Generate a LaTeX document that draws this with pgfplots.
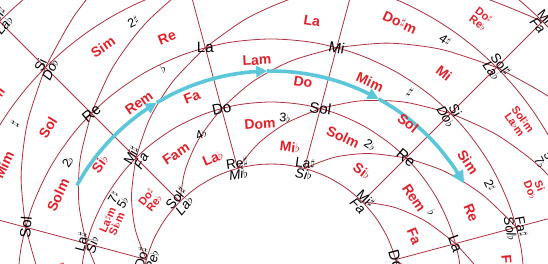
\documentclass[border=0pt]{standalone}
\usepackage{fontspec}
\setmainfont{Liberation Sans}
\usepackage{pgfplots}
\pgfplotsset{compat=1.18}
\usetikzlibrary{arrows.meta}
\definecolor{gridc}{RGB}{176,48,64}
\definecolor{chord}{RGB}{226,32,42}
\definecolor{arrowc}{RGB}{92,198,218}
\newcommand\sh{\raisebox{0.4ex}{\scalebox{0.78}{$\sharp$}}}
\newcommand\fl{\scalebox{0.85}{$\flat$}}
\pgfplotsset{gridline/.style={color=gridc, line width=0.8pt, no markers, smooth, data cs=polar}}
\tikzset{
 note/.style={font=\fontsize{15}{15}\selectfont, text=black, inner sep=0pt},
 note2/.style={font=\fontsize{13.5}{11}\selectfont, text=black, inner sep=0pt, align=center},
 chord/.style={font=\bfseries\fontsize{14}{14}\selectfont, text=chord, inner sep=0pt},
 chord2/.style={font=\bfseries\fontsize{11}{10}\selectfont, text=chord, inner sep=0pt, align=center},
 ksig/.style={font=\fontsize{12.5}{10.5}\selectfont, text=black, inner sep=0pt, align=center},
}
\newcommand\lbl[5]{\node[#1,rotate=#2] at (axis cs:#3,#4) {#5};}
\begin{document}
\begin{tikzpicture}
\begin{axis}[x=1pt,y=1pt,xmin=-271,xmax=277,ymin=29,ymax=293,hide axis,clip=true]
% rings
\addplot[gridline] coordinates {(5,129)(15,129)(25,129)(35,129)(45,129)(55,129)(65,129)(75,129)(85,129)(95,129)(105,129)(115,129)(125,129)(135,129)(145,129)(155,129)(165,129)(175,129)};
\addplot[gridline] coordinates {(0,191)(10,191)(20,191)(30,191)(40,191)(50,191)(60,191)(70,191)(80,191)(90,191)(100,191)(110,191)(120,191)(130,191)(140,191)(150,191)(160,191)(170,191)(180,191)};
\addplot[gridline] coordinates {(0,254)(10,254)(20,254)(30,254)(40,254)(50,254)(60,254)(70,254)(80,254)(90,254)(100,254)(110,254)(120,254)(130,254)(140,254)(150,254)(160,254)(170,254)(180,254)};
\addplot[gridline] coordinates {(20,319)(25,319)(30,319)(35,319)(40,319)(45,319)(50,319)(55,319)(60,319)(65,319)(70,319)(75,319)};
\addplot[gridline] coordinates {(105,319)(110,319)(115,319)(120,319)(125,319)(130,319)(135,319)(140,319)(145,319)(150,319)(155,319)(160,319)};
\addplot[gridline] coordinates {(30,384)(35,384)(40,384)(45,384)(50,384)(55,384)(60,384)};
\addplot[gridline] coordinates {(120,384)(125,384)(130,384)(135,384)(140,384)(145,384)(150,384)};
% radial lines
\addplot[gridline] coordinates {(15,129)(15,470)};
\addplot[gridline] coordinates {(45,129)(45,470)};
\addplot[gridline] coordinates {(75,129)(75,470)};
\addplot[gridline] coordinates {(105,129)(105,470)};
\addplot[gridline] coordinates {(135,129)(135,470)};
\addplot[gridline] coordinates {(165,129)(165,470)};
% spirals B -> A
\addplot[gridline] coordinates {(195,129)(185,149.7)(175,170.3)(165,191)};
\addplot[gridline] coordinates {(165,129)(155,149.7)(145,170.3)(135,191)};
\addplot[gridline] coordinates {(135,129)(125,149.7)(115,170.3)(105,191)};
\addplot[gridline] coordinates {(105,129)(95,149.7)(85,170.3)(75,191)};
\addplot[gridline] coordinates {(75,129)(65,149.7)(55,170.3)(45,191)};
\addplot[gridline] coordinates {(45,129)(35,149.7)(25,170.3)(15,191)};
\addplot[gridline] coordinates {(15,129)(5,149.7)(-5,170.3)(-15,191)};
% spirals A -> C
\addplot[gridline] coordinates {(195,191)(185,212)(175,233)(165,254)};
\addplot[gridline] coordinates {(165,191)(155,212)(145,233)(135,254)};
\addplot[gridline] coordinates {(135,191)(125,212)(115,233)(105,254)};
\addplot[gridline] coordinates {(105,191)(95,212)(85,233)(75,254)};
\addplot[gridline] coordinates {(75,191)(65,212)(55,233)(45,254)};
\addplot[gridline] coordinates {(45,191)(35,212)(25,233)(15,254)};
\addplot[gridline] coordinates {(15,191)(5,212)(-5,233)(-15,254)};
% spirals C -> D
\addplot[gridline] coordinates {(195,254)(185,275.7)(175,297.3)(165,319)};
\addplot[gridline] coordinates {(165,254)(155,275.7)(145,297.3)(135,319)};
\addplot[gridline] coordinates {(135,254)(125,275.7)(115,297.3)(105,319)};
\addplot[gridline] coordinates {(105,254)(95,275.7)(85,297.3)(75,319)};
\addplot[gridline] coordinates {(75,254)(65,275.7)(55,297.3)(45,319)};
\addplot[gridline] coordinates {(45,254)(35,275.7)(25,297.3)(15,319)};
% spirals D -> E
\addplot[gridline] coordinates {(135,319)(125,340.7)(115,362.3)(105,384)};
\addplot[gridline] coordinates {(75,319)(65,340.7)(55,362.3)(45,384)};
\addplot[gridline] coordinates {(45,319)(35,340.7)(25,362.3)(15,384)};
% cyan arrow
\addplot[color=arrowc, line width=3.6pt, smooth, no markers, data cs=polar, -{Triangle[length=11pt,width=11pt]}] coordinates {(151,222)(146,222)(141,222)(136,222)(131,222)(126,222)(121,222)};
\addplot[color=arrowc, line width=3.6pt, smooth, no markers, data cs=polar, -{Triangle[length=11pt,width=11pt]}] coordinates {(121,222)(116,222)(111,222)(106,222)(101,222)(96,222)(91,222)};
\addplot[color=arrowc, line width=3.6pt, smooth, no markers, data cs=polar, -{Triangle[length=11pt,width=11pt]}] coordinates {(91,222)(86,222)(81,222)(76,222)(71,222)(66,222)(61,222)};
\addplot[color=arrowc, line width=3.6pt, smooth, no markers, data cs=polar, -{Triangle[length=13pt,width=12pt]}] coordinates {(61,222)(56,222)(51,222)(46,222)(41,222)(35,222)(29.5,222)};
% note names
\lbl{note2}{8}{-33.4}{124.6}{Re\sh\\\textit{Mi\fl}}
\lbl{note2}{-8}{33.4}{124.6}{La\sh\\\textit{Si\fl}}
\lbl{note2}{50}{-91.2}{91.2}{Sol\sh\\\textit{La\fl}}
\lbl{note2}{-45}{91.2}{91.2}{Mi\sh\\\textit{Fa}}
\lbl{note2}{75}{-124.6}{33.4}{Do\sh\\\textit{Re\fl}}
\lbl{note}{-75}{124.6}{33.4}{Do}
\lbl{note}{12}{-49.4}{184.5}{Do}
\lbl{note}{-8}{49.4}{184.5}{Sol}
\lbl{note2}{60}{-135.1}{135.1}{Mi\sh\\\textit{Fa}}
\lbl{note}{-40}{135.1}{135.1}{Re}
\lbl{note2}{75}{-184.5}{49.4}{La\sh\\\textit{Si\fl}}
\lbl{note}{-70}{184.5}{49.4}{La}
\lbl{note}{0}{-65.7}{245.3}{La}
\lbl{note}{-12}{65.7}{245.3}{Mi}
\lbl{note}{40}{-179.6}{179.6}{Re}
\lbl{note2}{-60}{179.6}{179.6}{Si\\\textit{Do\fl}}
\lbl{note}{85}{-245.3}{65.7}{Sol}
\lbl{note2}{-80}{245.3}{65.7}{Fa\sh\\\textit{Sol\fl}}
\lbl{note2}{65}{-225.6}{225.6}{Si\\\textit{Do\fl}}
\lbl{note2}{-55}{225.6}{225.6}{Sol\sh\\\textit{La\fl}}
\lbl{note2}{50}{-271.5}{271.5}{Sol\sh\\\textit{La\fl}}
\lbl{note2}{-50}{271.5}{271.5}{Mi\sh\\\textit{Fa}}
% chord names
\lbl{chord}{3}{-14}{233}{Lam}
\lbl{chord}{-9}{32}{211}{Do}
\lbl{chord}{-25}{99}{211}{Mim}
\lbl{chord}{-39}{137}{170}{Sol}
\lbl{chord}{-56}{197}{131}{Sim}
\lbl{chord}{-68}{200}{80}{Re}
\lbl{chord}{22}{-79}{196}{Fa}
\lbl{chord}{35}{-132}{190}{Rem}
\lbl{chord}{53}{-171}{129}{Si\fl}
\lbl{chord}{65}{-213}{98}{Solm}
\lbl{chord}{-85}{237}{21}{Fa\sh m}
\lbl{chord}{84}{-211}{21}{Mi\fl}
\lbl{chord}{4}{-11}{169}{Dom}
\lbl{chord}{-7}{19}{146}{Mi\fl}
\lbl{chord}{-25}{72}{156}{Solm}
\lbl{chord}{-37}{91}{122}{Si\fl}
\lbl{chord}{-56}{143}{95}{Rem}
\lbl{chord}{-68}{143}{57}{Fa}
\lbl{chord}{34}{-95}{139}{Fam}
\lbl{chord}{23}{-58}{135}{La\fl}
\lbl{chord2}{66}{-159}{71}{La\sh m\\Si\fl m}
\lbl{chord2}{52}{-121}{93}{Do\sh\\Re\fl}
\lbl{chord}{-9}{41}{272}{La}
\lbl{chord}{-25}{129}{271}{Do\sh m}
\lbl{chord}{-38}{173}{220}{Mi}
\lbl{chord2}{-55}{248}{171}{Sol\sh m\\La\fl m}
\lbl{chord2}{-68}{264}{105}{Si\\Do\fl}
\lbl{chord}{34}{-168}{246}{Sim}
\lbl{chord}{22}{-104}{255}{Re}
\lbl{chord}{58}{-223}{165}{Sol}
\lbl{chord}{64}{-267}{128}{Mim}
\lbl{chord2}{-37}{210}{274}{Do\sh\\Re\fl}
\lbl{chord}{54}{-274}{198}{Mi}
% key signatures
\lbl{ksig}{-5}{14}{175}{3\fl}
\lbl{ksig}{-34}{99}{148}{2\fl}
\lbl{ksig}{24}{-70}{159}{4\fl}
\lbl{ksig}{-64}{161}{80}{$\flat$}
\lbl{ksig}{59}{-153}{93}{7\sh\\5\fl}
\lbl{ksig}{26}{-108}{225}{$\flat$}
\lbl{ksig}{57}{-203}{131}{2\fl}
\lbl{ksig}{-35}{139}{201}{$\sharp$}
\lbl{ksig}{-64}{219}{108}{2\sh}
\lbl{ksig}{27}{-138}{271}{2\sh}
\lbl{ksig}{57}{-256}{169}{$\sharp$}
\lbl{ksig}{-35}{174}{253}{4\sh}
\lbl{ksig}{-64}{274}{133}{5\sh\\7\fl}
\end{axis}
\pgfresetboundingbox
\useasboundingbox (current axis.south west) rectangle (current axis.north east);
\end{tikzpicture}
\end{document}
